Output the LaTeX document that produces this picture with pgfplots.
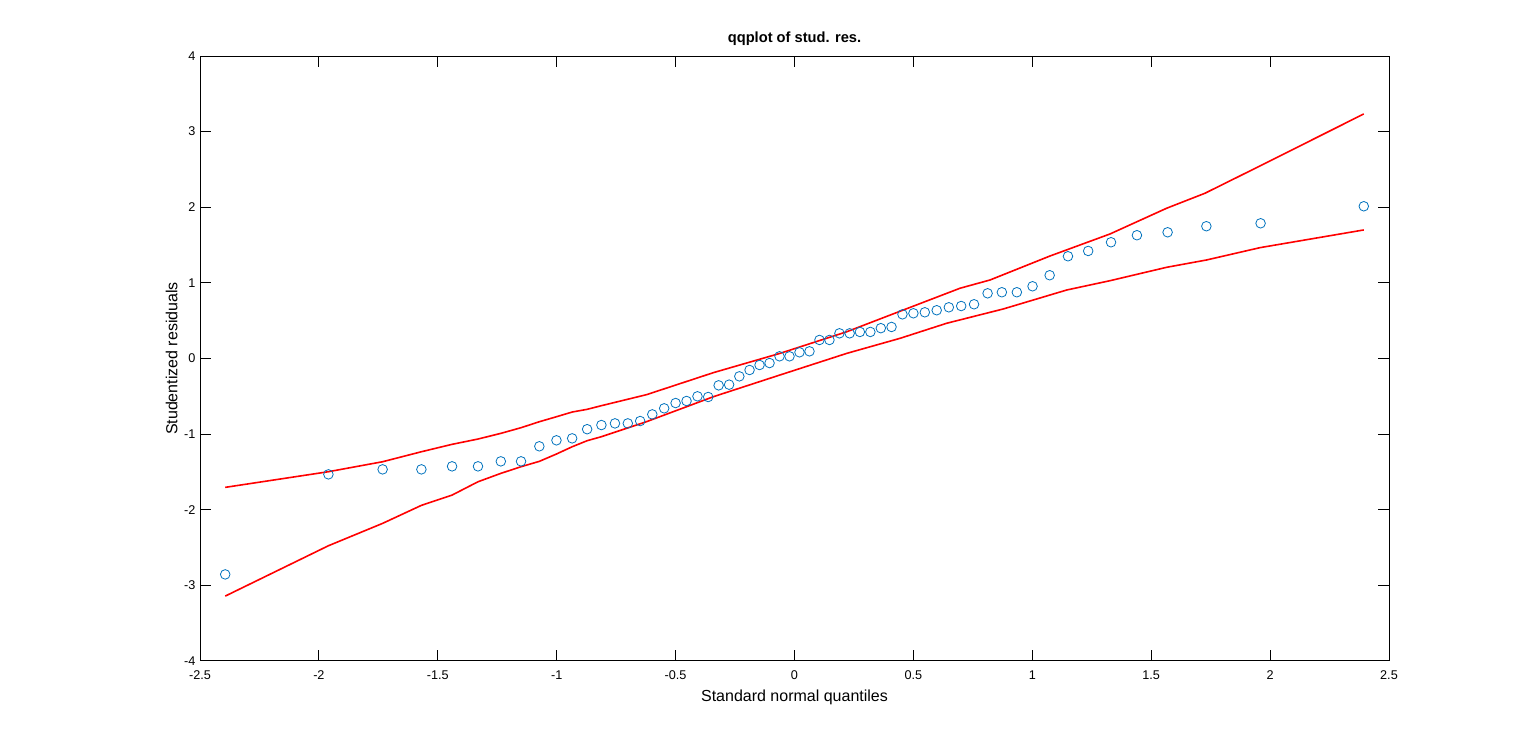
\documentclass[border=0pt]{standalone}
\usepackage{pgfplots}
\pgfplotsset{compat=1.18}
\usepackage{fontspec}
\setmainfont{Liberation Sans}
\definecolor{mblue}{RGB}{0,114,189}
\begin{document}
\begin{tikzpicture}
\path[use as bounding box] (0,0) rectangle (1152bp,558bp);
\begin{axis}[
  at={(150bp,62.25bp)}, anchor=south west,
  scale only axis, width=891.75bp, height=453.75bp,
  xmin=-2.5, xmax=2.5, ymin=-4, ymax=4,
  xtick={-2.5,-2,-1.5,-1,-0.5,0,0.5,1,1.5,2,2.5},
  ytick={-4,-3,-2,-1,0,1,2,3,4},
  tick align=inside, tickpos=both,
  major tick length=8.3bp,
  axis line style={line width=0.75bp},
  every tick/.style={black, line width=0.75bp},
  /pgf/number format/assume math mode=true,
  tick label style={font=\fontsize{9.5bp}{11bp}\selectfont},
  xticklabel style={yshift=-3.5bp},
  label style={font=\fontsize{12bp}{14bp}\selectfont},
  title style={font=\fontsize{11bp}{13bp}\selectfont\bfseries, yshift=-2bp},
  title={qqplot of stud. res.},
  xlabel={Standard normal quantiles},
  ylabel={Studentized residuals},
  xlabel style={yshift=-1bp},
  ylabel style={yshift=-2bp},
  clip=false,
]
\addplot[red, line width=1.2bp] coordinates {
(-2.394,-1.704) (-1.960,-1.497) (-1.732,-1.365) (-1.569,-1.233) (-1.440,-1.135)
(-1.331,-1.065) (-1.235,-0.990) (-1.150,-0.915) (-1.073,-0.836) (-1.001,-0.770)
(-0.935,-0.708) (-0.872,-0.672) (-0.812,-0.624) (-0.622,-0.478) (-0.341,-0.187)
(-0.061,0.068) (0.220,0.354) (0.444,0.625) (0.696,0.929) (0.822,1.038)
(1.075,1.356) (1.327,1.647) (1.565,1.987) (1.726,2.185) (1.960,2.550) (2.394,3.234)
};
\addplot[red, line width=1.2bp] coordinates {
(-2.394,-3.142) (-1.960,-2.476) (-1.732,-2.180) (-1.569,-1.942) (-1.440,-1.806)
(-1.331,-1.630) (-1.235,-1.519) (-1.150,-1.431) (-1.073,-1.360) (-1.001,-1.263)
(-0.935,-1.167) (-0.872,-1.087) (-0.812,-1.034) (-0.622,-0.835) (-0.341,-0.505)
(-0.061,-0.218) (0.220,0.068) (0.444,0.267) (0.640,0.466) (0.878,0.655)
(1.145,0.906) (1.327,1.029) (1.565,1.206) (1.733,1.303) (1.958,1.466) (2.394,1.700)
};
\addplot[only marks, mark=o, mark size=3.6bp, mark options={mblue, line width=0.6bp}] coordinates {
(-2.394,-2.855) (-1.960,-1.532) (-1.732,-1.466) (-1.569,-1.466) (-1.440,-1.426)
(-1.331,-1.426) (-1.235,-1.360) (-1.150,-1.360) (-1.073,-1.161) (-1.001,-1.082)
(-0.935,-1.056) (-0.872,-0.935) (-0.812,-0.880) (-0.755,-0.858) (-0.701,-0.858)
(-0.649,-0.827) (-0.598,-0.739) (-0.548,-0.659) (-0.500,-0.589) (-0.454,-0.562)
(-0.408,-0.500) (-0.363,-0.509) (-0.319,-0.355) (-0.275,-0.346) (-0.232,-0.236)
(-0.189,-0.152) (-0.147,-0.086) (-0.105,-0.060) (-0.063,0.029) (-0.021,0.029)
(0.021,0.082) (0.063,0.095) (0.105,0.245) (0.147,0.245) (0.189,0.333)
(0.232,0.333) (0.275,0.351) (0.319,0.351) (0.363,0.401) (0.408,0.417)
(0.454,0.584) (0.500,0.598) (0.548,0.611) (0.598,0.638) (0.649,0.677)
(0.701,0.694) (0.755,0.717) (0.812,0.862) (0.872,0.876) (0.935,0.876)
(1.001,0.955) (1.073,1.101) (1.150,1.352) (1.235,1.422) (1.331,1.537)
(1.440,1.630) (1.569,1.669) (1.732,1.749) (1.960,1.788) (2.394,2.013)
};
\end{axis}
\end{tikzpicture}
\end{document}
